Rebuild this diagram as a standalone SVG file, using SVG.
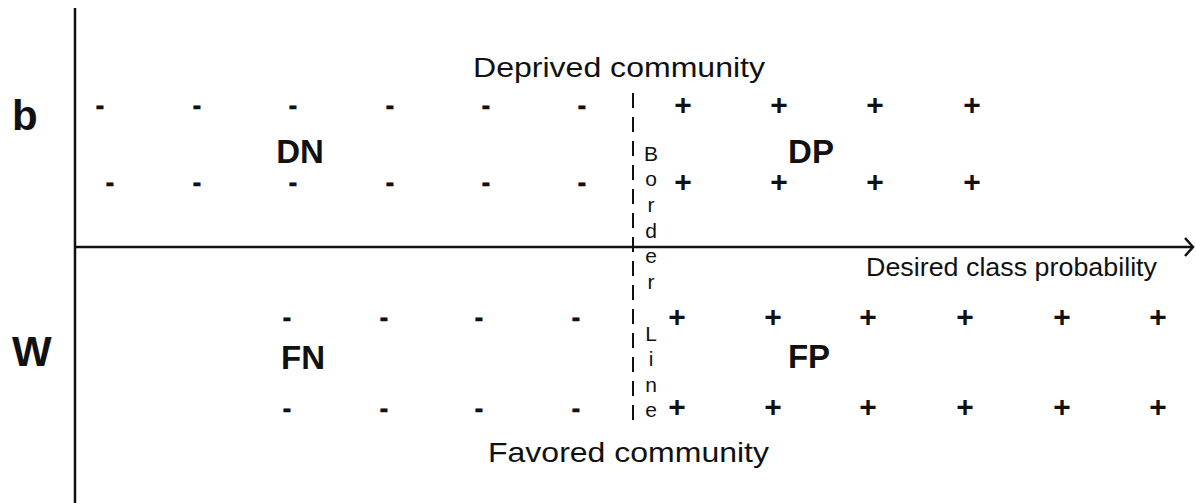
<svg xmlns="http://www.w3.org/2000/svg" width="1196" height="503" viewBox="0 0 1196 503">
  <defs>
    <style>
      text { font-family: "Liberation Sans", Arial, sans-serif; fill: #111; }
      .title { font-size: 28px; }
      .axis-label { font-size: 26px; }
      .group { font-size: 42px; font-weight: bold; }
      .quad { font-size: 33px; font-weight: bold; text-anchor: middle; }
      .neg { font-size: 25px; font-weight: bold; text-anchor: middle; stroke: #111; stroke-width: 0.7; }
      .pos { font-size: 30px; font-weight: bold; text-anchor: middle; }
      .border { font-size: 21px; text-anchor: middle; }
      .axis { stroke: #111; stroke-width: 2.5; fill: none; }
      .divider { stroke: #111; stroke-width: 2; stroke-dasharray: 15 9; fill: none; }
    </style>
  </defs>
  <rect width="1196" height="503" fill="#fff"/>

  <!-- axes and the dashed border line -->
  <g id="connectors">
    <line class="axis" x1="75" y1="8" x2="75" y2="503"/>
    <line class="axis" x1="74" y1="247" x2="1192" y2="247"/>
    <polyline class="axis" points="1185,238 1193,247 1185,256"/>
    <line class="divider" x1="633" y1="93" x2="633" y2="426"/>
  </g>

  <!-- axis and group labels -->
  <g id="label-b"><text class="group" x="12" y="130">b</text></g>
  <g id="label-w"><text class="group" x="12" y="366">W</text></g>
  <g id="label-deprived"><text class="title" x="473" y="77" textLength="292" lengthAdjust="spacingAndGlyphs">Deprived community</text></g>
  <g id="label-favored"><text class="title" x="488" y="462" textLength="281" lengthAdjust="spacingAndGlyphs">Favored community</text></g>
  <g id="label-x-axis"><text class="axis-label" x="866" y="276" textLength="291" lengthAdjust="spacingAndGlyphs">Desired class probability</text></g>

  <!-- border line label, one letter per row -->
  <g id="border-line">
    <text class="border" x="651" y="161">B</text>
    <text class="border" x="651" y="186">o</text>
    <text class="border" x="651" y="212">r</text>
    <text class="border" x="651" y="238">d</text>
    <text class="border" x="651" y="263">e</text>
    <text class="border" x="651" y="289">r</text>
    <text class="border" x="651" y="341">L</text>
    <text class="border" x="651" y="366">i</text>
    <text class="border" x="651" y="392">n</text>
    <text class="border" x="651" y="417">e</text>
  </g>

  <!-- deprived negatives -->
  <g id="DN">
    <text class="quad" x="300" y="163">DN</text>
    <text class="neg" x="100" y="114">-</text>
    <text class="neg" x="197" y="114">-</text>
    <text class="neg" x="293" y="114">-</text>
    <text class="neg" x="390" y="114">-</text>
    <text class="neg" x="486" y="114">-</text>
    <text class="neg" x="582" y="114">-</text>
    <text class="neg" x="110" y="191">-</text>
    <text class="neg" x="197" y="191">-</text>
    <text class="neg" x="293" y="191">-</text>
    <text class="neg" x="390" y="191">-</text>
    <text class="neg" x="486" y="191">-</text>
    <text class="neg" x="582" y="191">-</text>
  </g>

  <!-- deprived positives -->
  <g id="DP">
    <text class="quad" x="811" y="163">DP</text>
    <text class="pos" x="683" y="115">+</text>
    <text class="pos" x="779" y="115">+</text>
    <text class="pos" x="875" y="115">+</text>
    <text class="pos" x="972" y="115">+</text>
    <text class="pos" x="683" y="192">+</text>
    <text class="pos" x="779" y="192">+</text>
    <text class="pos" x="875" y="192">+</text>
    <text class="pos" x="972" y="192">+</text>
  </g>

  <!-- favored negatives -->
  <g id="FN">
    <text class="quad" x="303" y="369">FN</text>
    <text class="neg" x="287" y="326">-</text>
    <text class="neg" x="384" y="326">-</text>
    <text class="neg" x="479" y="326">-</text>
    <text class="neg" x="576" y="326">-</text>
    <text class="neg" x="287" y="417">-</text>
    <text class="neg" x="384" y="417">-</text>
    <text class="neg" x="479" y="417">-</text>
    <text class="neg" x="576" y="417">-</text>
  </g>

  <!-- favored positives -->
  <g id="FP">
    <text class="quad" x="809" y="368">FP</text>
    <text class="pos" x="677" y="327">+</text>
    <text class="pos" x="773" y="327">+</text>
    <text class="pos" x="868" y="327">+</text>
    <text class="pos" x="965" y="327">+</text>
    <text class="pos" x="1062" y="327">+</text>
    <text class="pos" x="1158" y="327">+</text>
    <text class="pos" x="677" y="417">+</text>
    <text class="pos" x="773" y="417">+</text>
    <text class="pos" x="868" y="417">+</text>
    <text class="pos" x="965" y="417">+</text>
    <text class="pos" x="1062" y="417">+</text>
    <text class="pos" x="1158" y="417">+</text>
  </g>
</svg>
